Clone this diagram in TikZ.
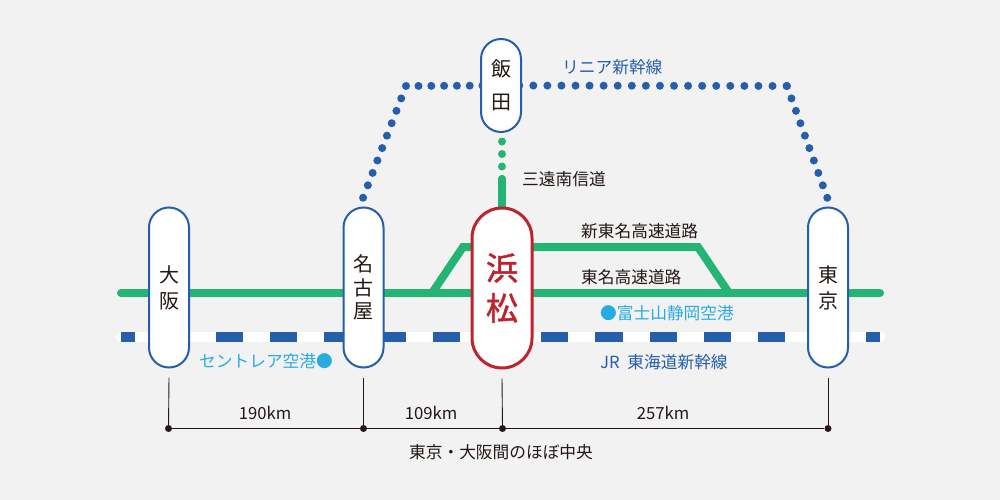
\documentclass[tikz,border=0pt]{standalone}
\usepackage{fontspec}
\setmainfont{Noto Sans CJK JP}
\newfontfamily\cityfont[FakeBold=1.5]{Noto Sans CJK JP}
\usetikzlibrary{backgrounds}
\definecolor{bggray}{HTML}{F2F2F2}
\definecolor{roadgreen}{HTML}{24B574}
\definecolor{lineblue}{HTML}{255EAB}
\definecolor{cityred}{HTML}{BE232D}
\definecolor{airportblue}{HTML}{29ABE2}
\definecolor{inkblack}{HTML}{231815}
\tikzset{
  station/.style={draw=lineblue,line width=2pt,fill=white,rounded corners=20pt,minimum width=40pt,inner sep=0pt,align=center,text=inkblack},
  label/.style={text=inkblack,inner sep=0pt,font=\fontsize{16.7pt}{20pt}\selectfont},
  road/.style={roadgreen,line width=8pt},
  maglev/.style={lineblue,line width=8pt,line cap=round},
  tick/.style={inkblack,line width=0.9pt},
  point/.style={circle,fill=inkblack,inner sep=0pt,minimum size=7pt},
}
\begin{document}
\begin{tikzpicture}[x=1pt,y=-1pt]
\useasboundingbox (0,0) rectangle (1000,500);
\node (osaka) at (169,287.5) [station,minimum height=160pt,font=\fontsize{20pt}{26pt}\selectfont] {大\\阪};
\node (nagoya) at (363.5,287.5) [station,minimum height=160pt,font=\fontsize{20pt}{23.5pt}\selectfont] {名\\古\\屋};
\node (hamamatsu) at (502,288) [station,draw=cityred,line width=3pt,rounded corners=30pt,minimum width=60pt,minimum height=160pt,text=cityred,font=\fontsize{32pt}{40pt}\cityfont] {浜\\松};
\node (tokyo) at (828,287.5) [station,minimum height=160pt,font=\fontsize{20pt}{26pt}\selectfont] {東\\京};
\node (iida) at (501,85.5) [station,minimum height=93pt,font=\fontsize{20pt}{33pt}\selectfont] {\raisebox{-1.5pt}{飯}\\\raisebox{-1pt}{田}};

\coordinate (westroad) at (121,293);
\coordinate (eastroad) at (880,293);
\coordinate (westrail) at (121,337);
\coordinate (eastrail) at (880,337);
\coordinate (roadstart) at (502,179);
\coordinate (leftbend) at (406,86);
\coordinate (rightbend) at (787,86);

\begin{scope}[on background layer]
\fill[bggray] (0,0) rectangle (1000,500);
\draw[road,line cap=round] (westroad) -- (eastroad);
\draw[road,miter limit=10] (432,293) -- (463,247) -- (698,247) -- (729,293);
\draw[white,line width=10pt,line cap=round] (westrail) -- (eastrail);
\draw[lineblue,line width=9.5pt,dash pattern=on 27.1pt off 27.1pt,dash phase=13.4pt] (westrail) -- (eastrail);
\draw[maglev,dash pattern=on 0pt off 12.8pt,dash phase=7.1pt] (iida.center) -- (leftbend);
\draw[maglev,dash pattern=on 0pt off 13.3pt] (leftbend) -- ([xshift=-3.8pt]nagoya.north);
\draw[maglev,dash pattern=on 0pt off 14.07pt,dash phase=9.9pt] (iida.center) -- (rightbend);
\draw[maglev,dash pattern=on 0pt off 13.2pt] (rightbend) -- ([xshift=2.4pt]tokyo.north);
\draw[road,line cap=round,dash pattern=on 0pt off 12.5pt] (roadstart) -- (roadstart |- iida.south);
\draw[road,line cap=round] (roadstart) -- (roadstart |- hamamatsu.north);
\end{scope}

\node at (562,67.5) [label,text=lineblue,anchor=west] {リニア新幹線};
\node at (522,179) [label,anchor=west] {三遠南信道};
\node at (581,231) [label,anchor=west] {新東名高速道路};
\node at (581,277) [label,anchor=west] {東名高速道路};
\node at (600,313) [label,text=airportblue,anchor=west] {●富士山静岡空港};
\node at (600,362) [label,text=lineblue,anchor=west] {JR\hspace{4pt} 東海道新幹線};
\node at (333,361) [label,text=airportblue,anchor=east] {セントレア空港●};

\node (osakapoint) at (168.5,428.5) [point] {};
\node (nagoyapoint) at (363.5,428.5) [point] {};
\node (hamamatsupoint) at (502.5,428.5) [point] {};
\node (tokyopoint) at (828,428.5) [point] {};
\draw[tick] ([yshift=-9pt]osaka.south) -- (osakapoint);
\draw[tick] ([yshift=-9pt]nagoya.south) -- (nagoyapoint);
\draw[tick] ([yshift=-9pt]hamamatsu.south) -- (hamamatsupoint);
\draw[tick] ([yshift=-9pt]tokyo.south) -- (tokyopoint);
\draw[tick] (osakapoint) -- (nagoyapoint) -- (hamamatsupoint) -- (tokyopoint);

\node at (265,413) [label] {190km};
\node at (431,413) [label] {109km};
\node at (663,413) [label] {257km};
\node at (501,452) [label] {東京・大阪間のほぼ中央};
\end{tikzpicture}
\end{document}
